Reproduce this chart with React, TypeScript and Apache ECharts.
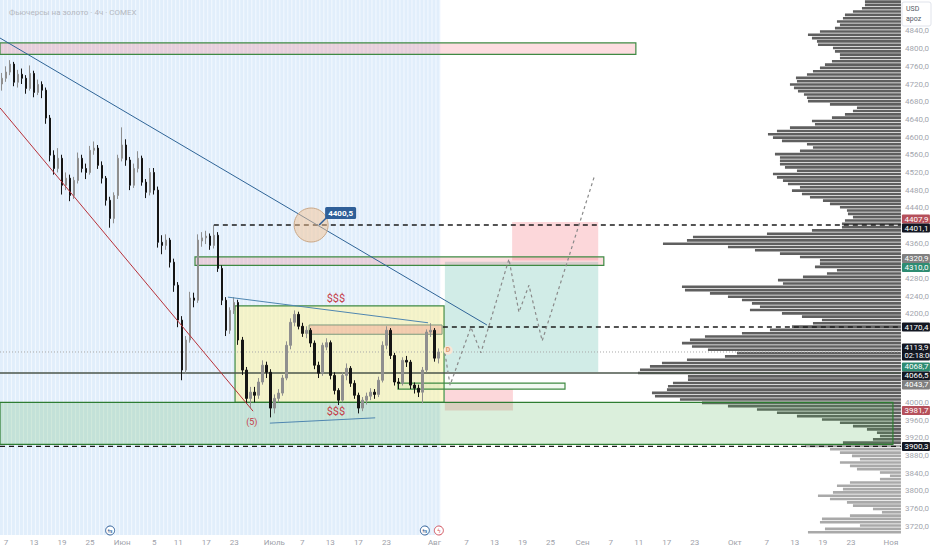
import React, { useEffect, useRef } from "react";
import * as echarts from "echarts";

const SLOTS = 225;
const PRICE_MIN = 3700;
const PRICE_MAX = 4910;

const tickSlots = [1, 8, 15, 22, 30, 38, 44, 51, 58, 68, 75, 82, 89, 96, 108, 116, 123, 130, 137, 145, 152, 159, 166, 173, 183, 191, 198, 205, 212, 222];
const tickTexts = ["7", "13", "19", "25", "Июн", "5", "11", "17", "23", "Июль", "7", "13", "17", "23", "Авг", "7", "13", "19", "25", "Сен", "7", "11", "17", "23", "Окт", "7", "13", "19", "23", "Ноя"];

// [open, close, low, high]
const candles = [
  [4720, 4733, 4705, 4745], [4733, 4747, 4725, 4760], [4747, 4765, 4740, 4774], [4765, 4724, 4715, 4770],
  [4724, 4742, 4712, 4752], [4742, 4733, 4720, 4755], [4733, 4710, 4698, 4740], [4710, 4744, 4705, 4762],
  [4744, 4701, 4690, 4750], [4701, 4719, 4695, 4730], [4719, 4706, 4688, 4726], [4706, 4643, 4630, 4712],
  [4643, 4559, 4545, 4650], [4559, 4529, 4515, 4570], [4529, 4552, 4520, 4575], [4552, 4491, 4470, 4560],
  [4491, 4507, 4480, 4520], [4507, 4468, 4455, 4515], [4468, 4502, 4460, 4510], [4502, 4552, 4495, 4565],
  [4552, 4529, 4520, 4560], [4529, 4520, 4505, 4540], [4520, 4570, 4515, 4580], [4570, 4575, 4560, 4590],
  [4575, 4536, 4528, 4582], [4536, 4507, 4495, 4545], [4507, 4457, 4445, 4512], [4457, 4416, 4395, 4465],
  [4416, 4468, 4405, 4475], [4468, 4552, 4460, 4560], [4552, 4582, 4545, 4622], [4582, 4548, 4535, 4595],
  [4548, 4491, 4480, 4555], [4491, 4529, 4485, 4540], [4529, 4552, 4520, 4568], [4552, 4498, 4490, 4558],
  [4498, 4475, 4462, 4505], [4475, 4520, 4468, 4530], [4520, 4480, 4470, 4530], [4480, 4362, 4350, 4488],
  [4362, 4355, 4335, 4378], [4355, 4367, 4345, 4380], [4367, 4317, 4305, 4372], [4317, 4265, 4250, 4325],
  [4265, 4186, 4170, 4272], [4186, 4073, 4050, 4195], [4073, 4141, 4065, 4150], [4141, 4236, 4135, 4250],
  [4236, 4231, 4215, 4248], [4231, 4367, 4225, 4380], [4365, 4372, 4352, 4385], [4372, 4376, 4358, 4388],
  [4376, 4355, 4345, 4382], [4355, 4378, 4348, 4401], [4378, 4303, 4295, 4385], [4303, 4231, 4220, 4310],
  [4231, 4163, 4150, 4238], [4163, 4208, 4155, 4215], [4208, 4226, 4200, 4238], [4226, 4141, 4130, 4232],
  [4141, 4073, 4062, 4148], [4073, 4009, 3998, 4080], [4009, 4023, 3987, 4035], [4023, 4016, 4000, 4035],
  [4016, 4046, 4008, 4055], [4046, 4084, 4040, 4095], [4084, 4068, 4055, 4092], [4068, 3987, 3966, 4075],
  [3987, 4009, 3975, 4018], [4009, 4021, 4000, 4030], [4021, 4055, 4015, 4062], [4055, 4129, 4050, 4138],
  [4129, 4181, 4120, 4190], [4181, 4199, 4172, 4208], [4199, 4172, 4165, 4205], [4172, 4156, 4148, 4180],
  [4156, 4163, 4145, 4172], [4163, 4134, 4125, 4168], [4134, 4084, 4075, 4140], [4084, 4066, 4055, 4092],
  [4066, 4129, 4060, 4135], [4125, 4135, 4118, 4145], [4135, 4061, 4052, 4140], [4061, 4027, 4018, 4068],
  [4027, 4005, 3994, 4032], [4005, 4061, 4000, 4068], [4061, 4077, 4050, 4088], [4077, 4043, 4035, 4082],
  [4043, 4016, 4008, 4050], [4016, 3987, 3975, 4022], [3987, 4005, 3980, 4012], [4005, 4014, 3995, 4022],
  [4014, 4023, 4005, 4032], [4023, 4018, 4008, 4030], [4018, 4050, 4012, 4058], [4050, 4129, 4045, 4138],
  [4129, 4163, 4120, 4172], [4163, 4106, 4098, 4168], [4106, 4046, 4038, 4112], [4046, 4043, 4030, 4055],
  [4043, 4095, 4038, 4102], [4095, 4091, 4080, 4105], [4091, 4039, 4030, 4096], [4039, 4032, 4020, 4045],
  [4032, 4023, 4012, 4040], [4023, 4073, 3998, 4080], [4073, 4159, 4068, 4165], [4159, 4163, 4148, 4179],
  [4163, 4100, 4092, 4168], [4100, 4114, 4088, 4122],
];

// volume profile rows, from the top of the price scale downwards
const profileTop = 4910;
const profileStep = 7.5;
const profileVolumes = [
  36, 36, 39, 48, 56, 58, 64, 61, 66, 81,
  93, 89, 84, 83, 68, 66, 61, 61, 69, 76,
  81, 88, 94, 105, 104, 111, 107, 103, 97, 94,
  93, 71, 44, 48, 56, 69, 89, 86, 111, 124,
  133, 128, 119, 94, 88, 101, 126, 121, 121, 121,
  116, 104, 128, 124, 118, 113, 101, 109, 99, 91,
  78, 71, 61, 54, 53, 48, 56, 59, 59, 89,
  134, 208, 214, 238, 173, 146, 121, 101, 81, 81,
  86, 64, 74, 98, 123, 118, 219, 216, 191, 173,
  159, 149, 141, 151, 119, 99, 79, 88, 109, 131,
  159, 196, 211, 219, 209, 193, 164, 176, 214, 239,
  251, 261, 263, 213, 213, 228, 233, 234, 249, 246,
  221, 199, 173, 144, 124, 104, 79, 61, 48, 34,
  24, 21, 28, 58, 96, 71, 61, 49, 41, 61,
  51, 44, 21, 11, 21, 51, 64, 58, 68, 83,
  71, 54, 48, 28, 19, 51, 79, 81, 41, 76,
  93,
];
const profileValueAreaLow = 3900;

// rectangles: time in bar slots, prices
const zoneKinds = ["target", "stopUpper", "stopLower", "supply", "supplyMid", "consolidation", "innerSupply", "demand", "smallBox"];
const zoneStart = [111.1, 127.9, 111.1, 0, 48.7, 58.7, 77.2, 0, 99.4];
const zoneEnd = [149.4, 149.4, 128.1, 158.8, 150.8, 110.9, 110.4, 223.0, 141.1];
const zoneLow = [4068.7, 4320.9, 3981.7, 4787, 4310, 4000, 4154, 3905, 4030];
const zoneHigh = [4318, 4407.9, 4030, 4813, 4329, 4218, 4175, 4000, 4043.7];

// trend lines
const trendKinds = ["blue", "red", "wedge", "wedge"];
const trendX0 = [0, 0, 56.9, 67.4];
const trendX1 = [121.6, 63.2, 106.9, 93.7];
const trendP0 = [4824, 4666, 4238, 3953];
const trendP1 = [4175, 3980, 4180, 3965];

// horizontal levels
const levelKinds = ["dashed", "dashed", "dashed", "solid", "dotted"];
const levelPrices = [4401.1, 4170.4, 3900.3, 4066.5, 4113.9];
const levelStart = [53.4, 110.6, 0, 0, 0];

// projected path
const forecastX = [111.1, 112.4, 117.6, 120.1, 127.1, 129.6, 132.1, 135.4, 148.4];
const forecastP = [4112, 4039, 4170, 4112, 4324, 4204, 4265, 4139, 4510];

// annotations
const noteTexts = ["$$$", "$$$", "(5)"];
const noteX = [83.9, 83.9, 62.9];
const noteP = [4234, 3980, 3955];
const noteSizes = [11, 11, 9];

const circleX = 77.7;
const circleP = 4401.1;
const circleLabel = "4400,5";

const markerX = 111.9;
const markerP = 4118;

const eventX = [27.5, 106.1, 109.6];
const eventKinds = ["blue", "blue", "red"];

// price scale tags
const tagPrices = [4407.9, 4401.1, 4320.9, 4310.0, 4170.4, 4113.9, 4068.7, 4066.5, 4043.7, 3981.7, 3900.3];
const tagKinds = ["red", "black", "grey", "green", "black", "last", "green", "black", "grey", "red", "black"];
const countdown = "02:18:00";

const zoneStyles: any = {
  target: { fill: "rgba(8,153,129,0.19)" },
  stopUpper: { fill: "rgba(242,54,69,0.2)" },
  stopLower: { fill: "rgba(242,54,69,0.2)" },
  supply: { fill: "rgba(242,54,69,0.17)", stroke: "#3f8a43", lw: 1.2 },
  supplyMid: { fill: "rgba(242,54,69,0.17)", stroke: "#3f8a43", lw: 1.2 },
  consolidation: { fill: "rgba(255,244,160,0.55)", stroke: "#3f8a43", lw: 1.2 },
  innerSupply: { fill: "rgba(242,54,69,0.2)", stroke: "#7d9a7d", lw: 1 },
  demand: { fill: "rgba(76,175,80,0.2)", stroke: "#2e7d32", lw: 1.2 },
  smallBox: { fill: "rgba(76,175,80,0.08)", stroke: "#3f8a43", lw: 1.2 },
};
const trendStyles: any = {
  blue: { color: "#2f6496", width: 1 },
  red: { color: "#b8323a", width: 1 },
  wedge: { color: "#4f86b0", width: 1 },
};
const levelStyles: any = {
  dashed: { color: "#1c1c1c", width: 1.3, type: [5, 4] },
  solid: { color: "#4b564b", width: 1.5, type: "solid" },
  dotted: { color: "#a8a8a8", width: 1, type: [1, 2] },
};
const tagColors: any = { red: "#b5505b", black: "#131722", grey: "#808080", green: "#2e8c72", last: "#131722" };

const FONT = "Roboto, 'Noto Sans', sans-serif";

function layoutTags(ys: number[], hs: number[]) {
  const order = ys.map((_, i) => i).sort((a, b) => ys[a] - ys[b]);
  let clusters: any[] = order.map((i) => ({ items: [i], top: ys[i] - hs[i] / 2, h: hs[i] }));
  let merged = true;
  while (merged) {
    merged = false;
    for (let c = 0; c < clusters.length - 1; c++) {
      const a = clusters[c];
      const b = clusters[c + 1];
      if (a.top + a.h > b.top + 0.01) {
        const items = a.items.concat(b.items);
        const h = a.h + b.h;
        const mean = items.reduce((s: number, i: number) => s + ys[i] * hs[i], 0) / h;
        clusters.splice(c, 2, { items, top: mean - h / 2, h });
        merged = true;
        break;
      }
    }
  }
  const out: number[] = new Array(ys.length);
  clusters.forEach((c) => {
    let t = c.top;
    c.items.forEach((i: number) => {
      out[i] = t + hs[i] / 2;
      t += hs[i];
    });
  });
  return out;
}

function axisLabelFor(v: number) {
  if (Math.round(v) % 40 !== 0 || v < 3720 || v > 4840) return "";
  // the scale hides its own labels where a price tag sits
  if (tagPrices.some((p) => Math.abs(p - v) < 18)) return "";
  return v.toFixed(1).replace(".", ",");
}

function buildOption() {
  const slotNames = Array.from({ length: SLOTS }, (_, i) => String(i));
  const labelBySlot: any = {};
  tickSlots.forEach((s, i) => (labelBySlot[s] = tickTexts[i]));

  const series: any[] = [];

  // session background stripes over the history
  series.push({
    type: "custom",
    xAxisIndex: 1,
    z: 0,
    silent: true,
    data: candles.map((_, i) => [i, PRICE_MAX]),
    renderItem: (params: any, api: any) => {
      const i = api.value(0);
      const a = api.coord([i, PRICE_MAX]);
      const b = api.coord([i + 1, PRICE_MIN]);
      return {
        type: "group",
        children: [
          { type: "rect", shape: { x: a[0], y: a[1], width: b[0] - a[0], height: b[1] - a[1] }, style: { fill: "#f1f7fe" } },
          { type: "rect", shape: { x: a[0], y: a[1], width: b[0] - a[0] - 1.1, height: b[1] - a[1] }, style: { fill: "#e1eefb" } },
        ],
      };
    },
  });

  // volume profile
  series.push({
    type: "custom",
    xAxisIndex: 2,
    z: 1,
    silent: true,
    data: profileVolumes.map((v, k) => [v, k]),
    renderItem: (params: any, api: any) => {
      const v = api.value(0);
      const k = api.value(1);
      const hi = profileTop - k * profileStep;
      const lo = Math.max(PRICE_MIN, hi - profileStep);
      const p1 = api.coord([v, hi]);
      const p0 = api.coord([0, lo]);
      const fill = lo < profileValueAreaLow ? "#a9a9a9" : "#5f5f5f";
      return {
        type: "rect",
        shape: { x: p1[0], y: p1[1] + 0.3, width: p0[0] - p1[0], height: Math.max(0.5, p0[1] - p1[1] - 0.7) },
        style: { fill },
      };
    },
  });

  // rectangles
  series.push({
    type: "custom",
    xAxisIndex: 1,
    z: 2,
    silent: true,
    data: zoneKinds.map((_, i) => [zoneStart[i], zoneHigh[i]]),
    renderItem: (params: any, api: any) => {
      const i = params.dataIndex;
      const a = api.coord([zoneStart[i], zoneHigh[i]]);
      const b = api.coord([zoneEnd[i], zoneLow[i]]);
      const st = zoneStyles[zoneKinds[i]];
      return {
        type: "rect",
        shape: { x: a[0], y: a[1], width: b[0] - a[0], height: b[1] - a[1] },
        style: { fill: st.fill, stroke: st.stroke || "none", lineWidth: st.lw || 0 },
      };
    },
  });

  // horizontal levels
  levelKinds.forEach((kind, i) => {
    const st = levelStyles[kind];
    series.push({
      type: "line",
      xAxisIndex: 1,
      z: 3,
      silent: true,
      symbol: "none",
      data: [[levelStart[i], levelPrices[i]], [SLOTS, levelPrices[i]]],
      lineStyle: { color: st.color, width: st.width, type: st.type },
    });
  });

  // candles
  series.push({
    type: "candlestick",
    xAxisIndex: 0,
    z: 4,
    silent: true,
    barWidth: 2,
    data: candles,
    itemStyle: { color: "#8f8f8f", color0: "#151515", borderColor: "#8f8f8f", borderColor0: "#151515", borderWidth: 1 },
  });

  // trend lines
  trendKinds.forEach((kind, i) => {
    const st = trendStyles[kind];
    series.push({
      type: "line",
      xAxisIndex: 1,
      z: 5,
      silent: true,
      symbol: "none",
      data: [[trendX0[i], trendP0[i]], [trendX1[i], trendP1[i]]],
      lineStyle: { color: st.color, width: st.width },
    });
  });

  // projected path
  series.push({
    type: "line",
    xAxisIndex: 1,
    z: 5,
    silent: true,
    symbol: "none",
    data: forecastX.map((x, i) => [x, forecastP[i]]),
    lineStyle: { color: "#8a8a8a", width: 1.2, type: [3, 3] },
  });

  // circle with callout
  series.push({
    type: "custom",
    xAxisIndex: 1,
    z: 6,
    silent: true,
    data: [[circleX, circleP]],
    renderItem: (params: any, api: any) => {
      const c = api.coord([api.value(0), api.value(1)]);
      const cx = c[0];
      const cy = c[1];
      return {
        type: "group",
        children: [
          { type: "circle", shape: { cx, cy, r: 17 }, style: { fill: "rgba(243,194,146,0.5)", stroke: "#c9a787", lineWidth: 1 } },
          { type: "line", shape: { x1: cx + 8, y1: cy, x2: cx + 16, y2: cy - 8 }, style: { stroke: "#2f5f98", lineWidth: 1.5 } },
          { type: "rect", shape: { x: cx + 14, y: cy - 18, width: 31, height: 12, r: 1.5 }, style: { fill: "#2f5f98" } },
          {
            type: "text",
            style: { x: cx + 29.5, y: cy - 12, text: circleLabel, fill: "#ffffff", font: "bold 8px " + FONT, align: "center", textAlign: "center", verticalAlign: "middle", textVerticalAlign: "middle" },
          },
        ],
      };
    },
  });

  // text notes
  series.push({
    type: "custom",
    xAxisIndex: 1,
    z: 6,
    silent: true,
    data: noteTexts.map((_, i) => [noteX[i], noteP[i]]),
    renderItem: (params: any, api: any) => {
      const i = params.dataIndex;
      const c = api.coord([noteX[i], noteP[i]]);
      return {
        type: "text",
        style: { x: c[0], y: c[1], text: noteTexts[i], fill: "#c43c48", font: noteSizes[i] + "px " + FONT, align: "center", textAlign: "center", verticalAlign: "middle", textVerticalAlign: "middle" },
      };
    },
  });

  // "D" marker
  series.push({
    type: "custom",
    xAxisIndex: 1,
    z: 6,
    silent: true,
    data: [[markerX, markerP]],
    renderItem: (params: any, api: any) => {
      const c = api.coord([api.value(0), api.value(1)]);
      return {
        type: "group",
        children: [
          { type: "circle", shape: { cx: c[0], cy: c[1], r: 4.5 }, style: { fill: "#fbe6d4" } },
          { type: "text", style: { x: c[0], y: c[1], text: "D", fill: "#dd9a72", font: "bold 7px " + FONT, align: "center", textAlign: "center", verticalAlign: "middle", textVerticalAlign: "middle" } },
        ],
      };
    },
  });

  // event icons at the bottom
  series.push({
    type: "custom",
    xAxisIndex: 1,
    z: 6,
    silent: true,
    data: eventX.map((x) => [x, PRICE_MIN]),
    renderItem: (params: any, api: any) => {
      const i = params.dataIndex;
      const c = api.coord([eventX[i], PRICE_MIN]);
      const col = eventKinds[i] === "red" ? "#d2545e" : "#2f5f98";
      const glyph = eventKinds[i] === "red" ? "ϟ" : "⇆";
      return {
        type: "group",
        children: [
          { type: "circle", shape: { cx: c[0], cy: c[1] - 4.5, r: 4.5 }, style: { fill: "#ffffff", stroke: col, lineWidth: 1 } },
          { type: "text", style: { x: c[0], y: c[1] - 4.5, text: glyph, fill: col, font: "6px 'DejaVu Sans'", align: "center", textAlign: "center", verticalAlign: "middle", textVerticalAlign: "middle" } },
        ],
      };
    },
  });

  // price scale tags
  series.push({
    type: "custom",
    xAxisIndex: 1,
    z: 10,
    silent: true,
    clip: false,
    data: tagPrices.map((p) => [SLOTS, p]),
    renderItem: (params: any, api: any) => {
      const i = params.dataIndex;
      const hs = tagKinds.map((k) => (k === "last" ? 17 : 9));
      const ys = tagPrices.map((p) => api.coord([SLOTS, p])[1]);
      const laid = layoutTags(ys, hs);
      const x = api.coord([SLOTS, tagPrices[i]])[0] + 1;
      const h = hs[i];
      const top = laid[i] - h / 2;
      const children: any[] = [
        { type: "rect", shape: { x, y: top, width: 28, height: h, r: 1 }, style: { fill: tagColors[tagKinds[i]] } },
      ];
      const txt = tagPrices[i].toFixed(1).replace(".", ",");
      if (tagKinds[i] === "last") {
        children.push({ type: "text", style: { x: x + 2.5, y: top + 4.5, text: txt, fill: "#fff", font: "8px " + FONT, align: "left", textAlign: "left", verticalAlign: "middle", textVerticalAlign: "middle" } });
        children.push({ type: "text", style: { x: x + 2.5, y: top + 12.5, text: countdown, fill: "#fff", font: "7.5px " + FONT, align: "left", textAlign: "left", verticalAlign: "middle", textVerticalAlign: "middle" } });
      } else {
        children.push({ type: "text", style: { x: x + 2.5, y: top + h / 2, text: txt, fill: "#fff", font: "8px " + FONT, align: "left", textAlign: "left", verticalAlign: "middle", textVerticalAlign: "middle" } });
      }
      return { type: "group", children };
    },
  });

  return {
    animation: false,
    backgroundColor: "#ffffff",
    textStyle: { fontFamily: FONT },
    title: {
      text: "Фьючерсы на золото · 4ч · COMEX",
      left: 4,
      top: 3,
      textStyle: { fontSize: 8, color: "#b4b8c0", fontWeight: "normal", fontFamily: FONT },
    },
    grid: { left: 0, right: 31, top: 0, bottom: 15 },
    xAxis: [
      {
        type: "category",
        data: slotNames,
        boundaryGap: true,
        axisLine: { show: false },
        axisTick: { show: false },
        splitLine: { show: false },
        axisLabel: {
          interval: (index: number) => labelBySlot[index] !== undefined,
          formatter: (value: string) => labelBySlot[Number(value)] || "",
          fontSize: 8,
          color: "#9ea1a9",
          margin: 3,
          fontFamily: FONT,
        },
      },
      { type: "value", min: 0, max: SLOTS, show: false },
      { type: "value", min: 0, max: 901, inverse: true, show: false },
    ],
    yAxis: [
      {
        type: "value",
        position: "right",
        min: PRICE_MIN,
        max: PRICE_MAX,
        interval: 20,
        axisLine: { show: false },
        axisTick: { show: false },
        splitLine: { show: false },
        axisLabel: {
          margin: 4,
          fontSize: 8,
          color: "#a3a6ae",
          fontFamily: FONT,
          formatter: (v: number) => axisLabelFor(v),
        },
      },
    ],
    graphic: [
      {
        type: "group",
        z: 100,
        children: [
          { type: "rect", shape: { x: 902, y: 2, width: 29, height: 24, r: 2 }, style: { fill: "#ffffff", stroke: "#e0e3eb", lineWidth: 1 } },
          { type: "text", style: { x: 906, y: 9, text: "USD", fill: "#555a66", font: "7px " + FONT, textVerticalAlign: "middle", verticalAlign: "middle" } },
          { type: "text", style: { x: 906, y: 19, text: "apoz", fill: "#555a66", font: "7px " + FONT, textVerticalAlign: "middle", verticalAlign: "middle" } },
        ],
      },
    ],
    series,
  };
}

export default function App() {
  const ref = useRef<HTMLDivElement>(null);
  useEffect(() => {
    if (!ref.current) return;
    const chart = echarts.init(ref.current, null, { renderer: "svg" });
    chart.setOption(buildOption() as any);
    return () => chart.dispose();
  }, []);
  return (
    <div
      ref={ref}
      style={{ position: "fixed", left: 0, top: 0, width: 932, height: 550, background: "#ffffff" }}
    />
  );
}
